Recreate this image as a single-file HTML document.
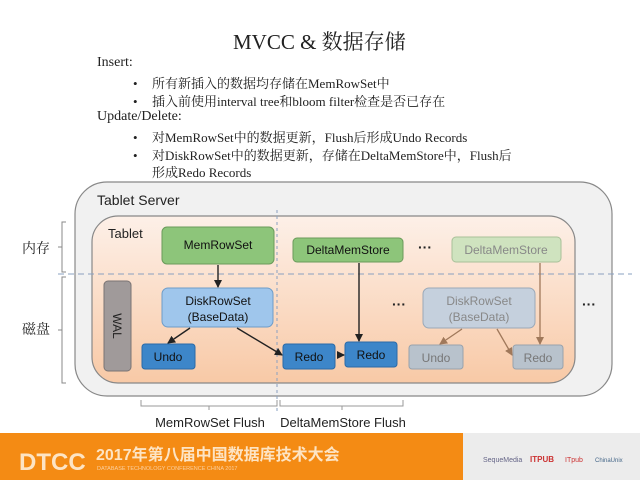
<!DOCTYPE html>
<html><head><meta charset="utf-8"><style>
body{margin:0;width:640px;height:480px;overflow:hidden;background:#fff;position:relative;font-family:"Liberation Serif","Noto Serif CJK SC",serif}
.t{position:absolute;white-space:nowrap;color:#222}
.b{position:absolute;left:133px;font-size:13px;color:#222}
</style></head><body>
<div class="t" style="left:233px;top:26px;font-size:21px;">MVCC &amp; 数据存储</div>
<div class="t" style="left:97px;top:55px;font-size:14px;">Insert:</div>
<div class="b" style="top:76px">•</div><div class="t" style="left:152px;top:73px;font-size:13px;">所有新插入的数据均存储在MemRowSet中</div>
<div class="b" style="top:94px">•</div><div class="t" style="left:152px;top:91px;font-size:13px;">插入前使用interval tree和bloom filter检查是否已存在</div>
<div class="t" style="left:97px;top:109px;font-size:14px;">Update/Delete:</div>
<div class="b" style="top:130px">•</div><div class="t" style="left:152px;top:127px;font-size:13px;">对MemRowSet中的数据更新，Flush后形成Undo Records</div>
<div class="b" style="top:148px">•</div><div class="t" style="left:152px;top:145px;font-size:13px;">对DiskRowSet中的数据更新，存储在DeltaMemStore中，Flush后</div>
<div class="t" style="left:152px;top:162px;font-size:13px;">形成Redo Records</div>
<svg width="640" height="480" style="position:absolute;left:0;top:0" font-family="Liberation Sans, sans-serif">
<defs>
<linearGradient id="g" x1="0" y1="0" x2="0" y2="1"><stop offset="0" stop-color="#fdf0e8"/><stop offset="1" stop-color="#f8c9a6"/></linearGradient>
<marker id="a" markerWidth="8" markerHeight="8" refX="7" refY="4" orient="auto" markerUnits="userSpaceOnUse"><path d="M0,0 L8,4 L0,8z" fill="#222"/></marker>
<marker id="b" markerWidth="8" markerHeight="8" refX="7" refY="4" orient="auto" markerUnits="userSpaceOnUse"><path d="M0,0 L8,4 L0,8z" fill="#a0785a"/></marker>
</defs>
<rect x="75" y="182" width="537" height="214" rx="32" fill="#f1f1f1" stroke="#888" stroke-width="1.2"/>
<text x="97" y="205" font-size="14" fill="#222">Tablet Server</text>
<rect x="92" y="216" width="483" height="167" rx="26" fill="url(#g)" stroke="#888" stroke-width="1.2"/>
<text x="108" y="238" font-size="13" fill="#222">Tablet</text>
<line x1="58" y1="274" x2="632" y2="274" stroke="#8aa0c0" stroke-dasharray="6,4"/>
<line x1="277" y1="210" x2="277" y2="412" stroke="#8aa0c0" stroke-dasharray="3,3"/>
<path d="M66,222 h-4 v50 h4 M62,247 h-4 M66,277 h-4 v106 h4 M62,330 h-4" fill="none" stroke="#888"/>
<text x="22" y="253" font-size="14" font-family="Liberation Serif, Noto Serif CJK SC, serif" fill="#222">内存</text>
<text x="22" y="334" font-size="14" font-family="Liberation Serif, Noto Serif CJK SC, serif" fill="#222">磁盘</text>
<g font-size="12" text-anchor="middle">
<rect x="162" y="227" width="112" height="37" rx="5" fill="#8dc57a" stroke="#6a9a5a"/><text x="218" y="249" fill="#111">MemRowSet</text>
<rect x="293" y="238" width="110" height="24" rx="4" fill="#8dc57a" stroke="#6a9a5a"/><text x="348" y="254" fill="#111">DeltaMemStore</text>
<rect x="452" y="237" width="109" height="25" rx="4" fill="#cfe3bf" stroke="#a8c098"/><text x="506" y="254" fill="#888">DeltaMemStore</text>
<rect x="162" y="288" width="111" height="39" rx="6" fill="#9fc6ec" stroke="#6e9cc8"/><text x="218" y="305" fill="#111">DiskRowSet</text><text x="218" y="321" fill="#111">(BaseData)</text>
<rect x="423" y="288" width="112" height="40" rx="6" fill="#c5d0dd" stroke="#9aa8b8"/><text x="479" y="305" fill="#888">DiskRowSet</text><text x="479" y="321" fill="#888">(BaseData)</text>
<rect x="104" y="281" width="27" height="90" rx="4" fill="#a09a9a" stroke="#7a7474"/><text x="117" y="326" fill="#222" transform="rotate(90 117 326)" dy="4">WAL</text>
<rect x="142" y="344" width="53" height="25" rx="3" fill="#3d86c9" stroke="#2a6aa8"/><text x="168" y="361" fill="#111">Undo</text>
<rect x="283" y="344" width="52" height="25" rx="3" fill="#3d86c9" stroke="#2a6aa8"/><text x="309" y="361" fill="#111">Redo</text>
<rect x="345" y="342" width="52" height="25" rx="3" fill="#3d86c9" stroke="#2a6aa8"/><text x="371" y="359" fill="#111">Redo</text>
<rect x="409" y="345" width="54" height="24" rx="3" fill="#b8c2cc" stroke="#98a2ac"/><text x="436" y="362" fill="#777">Undo</text>
<rect x="513" y="345" width="50" height="24" rx="3" fill="#b8c2cc" stroke="#98a2ac"/><text x="538" y="362" fill="#777">Redo</text>
</g>
<g font-size="14" font-weight="bold" fill="#222"><text x="418" y="252">···</text><text x="392" y="309">···</text><text x="582" y="309">···</text></g>
<g stroke="#222" stroke-width="1.4">
<line x1="218" y1="265" x2="218" y2="287" marker-end="url(#a)"/>
<line x1="190" y1="328" x2="168" y2="343" marker-end="url(#a)"/>
<line x1="237" y1="328" x2="282" y2="355" marker-end="url(#a)"/>
<line x1="337" y1="355" x2="344" y2="355" marker-end="url(#a)"/>
<line x1="359" y1="263" x2="359" y2="341" marker-end="url(#a)"/>
</g>
<g stroke="#a0785a" stroke-width="1.3">
<line x1="462" y1="329" x2="440" y2="344" marker-end="url(#b)"/>
<line x1="497" y1="329" x2="512" y2="355" marker-end="url(#b)"/>
<line x1="540" y1="263" x2="540" y2="344" marker-end="url(#b)"/>
</g>
<path d="M141,400 v6 h136 v-6 M209,406 v4 M280,400 v6 h123 v-6 M342,406 v4" fill="none" stroke="#999"/>
<text x="210" y="427" font-size="13" text-anchor="middle" fill="#222">MemRowSet Flush</text>
<text x="343" y="427" font-size="13" text-anchor="middle" fill="#222">DeltaMemStore Flush</text>
<rect x="0" y="433" width="463" height="47" fill="#f48b14"/>
<rect x="463" y="433" width="177" height="47" fill="#ececec"/>
<text x="19" y="470" font-size="24" font-weight="bold" fill="#fde4c4">DTCC</text>
<text x="96" y="460" font-size="16" font-weight="bold" fill="#fde4c4" font-family="Liberation Sans, Noto Sans CJK SC, sans-serif">2017年第八届中国数据库技术大会</text>
<text x="97" y="470" font-size="5.5" fill="#fbd0a0">DATABASE TECHNOLOGY CONFERENCE CHINA 2017</text>
<text x="483" y="462" font-size="7" fill="#668">SequeMedia</text>
<text x="530" y="462" font-size="8" font-weight="bold" fill="#c33">ITPUB</text>
<text x="565" y="462" font-size="7" fill="#c33">ITpub</text>
<text x="595" y="462" font-size="6" fill="#468">ChinaUnix</text>
</svg>
</body></html>
